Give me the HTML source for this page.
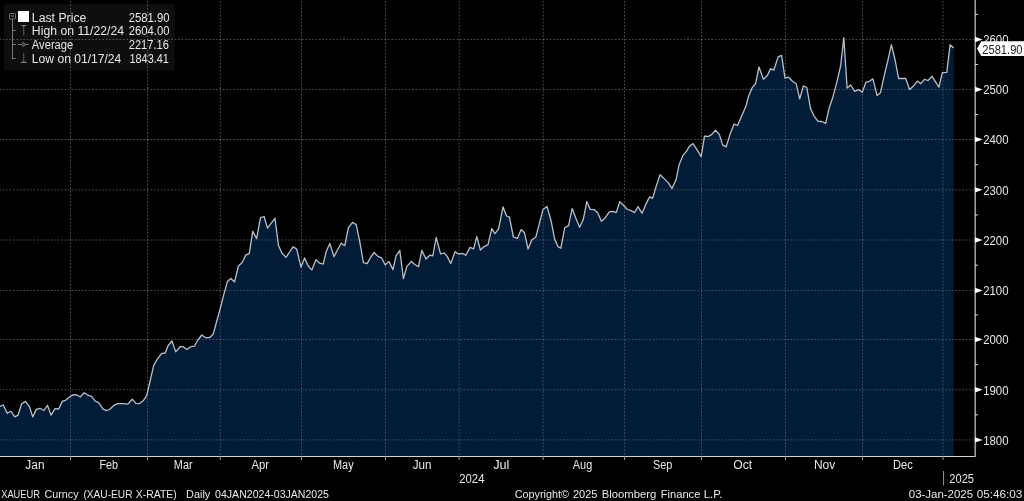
<!DOCTYPE html>
<html><head><meta charset="utf-8"><style>
html,body{margin:0;padding:0;background:#000;}
body{width:1024px;height:501px;overflow:hidden;position:relative;}
svg{display:block;position:absolute;left:0;top:0;}
text{font-family:"Liberation Sans",Arial,sans-serif;fill:#e8e8e8;}
</style></head><body>
<svg width="1024" height="501" viewBox="0 0 1024 501">
<rect x="0" y="0" width="1024" height="501" fill="#000"/>
<rect x="4" y="4" width="170.8" height="66.5" rx="3" ry="3" fill="#0e0e0e"/>
<g stroke="rgba(255,255,255,0.30)" stroke-width="1" fill="none">
<g stroke-dasharray="1.7 1.74" stroke-dashoffset="0.85"><line x1="0" y1="39.45" x2="974" y2="39.45"/><line x1="0" y1="89.45" x2="974" y2="89.45"/><line x1="0" y1="139.50" x2="974" y2="139.50"/><line x1="0" y1="189.85" x2="974" y2="189.85"/><line x1="0" y1="240.00" x2="974" y2="240.00"/><line x1="0" y1="290.45" x2="974" y2="290.45"/><line x1="0" y1="339.45" x2="974" y2="339.45"/><line x1="0" y1="389.75" x2="974" y2="389.75"/><line x1="0" y1="439.90" x2="974" y2="439.90"/></g>
<g stroke-dasharray="1.7 1.75" stroke-dashoffset="-0.9"><line x1="70.5" y1="0" x2="70.5" y2="456"/><line x1="147.5" y1="0" x2="147.5" y2="456"/><line x1="220.3" y1="0" x2="220.3" y2="456"/><line x1="301.5" y1="0" x2="301.5" y2="456"/><line x1="385.5" y1="0" x2="385.5" y2="456"/><line x1="459.2" y1="0" x2="459.2" y2="456"/><line x1="543.2" y1="0" x2="543.2" y2="456"/><line x1="624.5" y1="0" x2="624.5" y2="456"/><line x1="701.5" y1="0" x2="701.5" y2="456"/><line x1="785.5" y1="0" x2="785.5" y2="456"/><line x1="862.5" y1="0" x2="862.5" y2="456"/><line x1="943.0" y1="0" x2="943.0" y2="456"/></g>
</g>
<path d="M0,456 L0,406.4 L3.2,405 L7.2,413.3 L10.8,411.2 L14.8,416.8 L18,415.2 L21.6,403.8 L25.5,401.4 L29.5,406.6 L32.7,416.9 L36.3,409.4 L39.9,408.3 L43.9,410.5 L47.5,405.4 L51.1,415.2 L55.1,408.6 L58.7,409 L62.3,401.4 L65.5,400.3 L69.5,397 L73.5,394.6 L76.6,395 L80.4,396.9 L84,392.8 L88,395.2 L91.6,396.4 L95.2,401.2 L98.4,402.4 L103.1,409.1 L106.3,410.7 L109.5,409.5 L113.5,405.7 L117.5,403.6 L120.7,403.6 L123.9,403.6 L127.9,404.1 L132.3,399.2 L135.9,403.4 L139.5,403.6 L143.5,400.4 L146.7,395.6 L150.8,378 L153.7,365.3 L157,359.7 L161.5,353.7 L165.2,353 L168.2,345.5 L172,341 L175.7,351.9 L180.2,346.7 L183.2,346.7 L187,349.5 L190.7,346.7 L194.4,346.2 L198.2,339.5 L201.9,335 L205.7,337.7 L209.4,337.7 L213.2,334.2 L216.8,321 L220.4,308 L223.9,294.2 L227.4,281.6 L230.9,278.5 L234.6,281.9 L238.4,266 L242.2,262.5 L245.8,255.1 L249.3,253.3 L252.7,231.3 L256.6,238.6 L260.5,217.6 L264.1,216.5 L267.5,228.1 L271.3,223.2 L275,218.3 L278.5,245.6 L282,253.3 L286,257.4 L289.6,252 L293.2,246.7 L296.7,249.1 L301,267.2 L304.6,257.9 L308.2,266 L311.8,269.9 L316,259.6 L319.6,263.2 L323.2,264.2 L326.2,251.6 L329.8,243.5 L334,256.7 L337.6,249.8 L341.2,243.2 L344.8,245.6 L348.4,227.6 L352.6,222.4 L356.2,224.6 L359.7,241.4 L363.4,262.7 L367.2,263.6 L370.8,257 L374.1,252.5 L378,256.4 L381.6,257.8 L385.2,265 L388.8,261.4 L393,269.6 L396,255.8 L399.8,250.4 L403.4,278.6 L406.8,266.6 L411.3,261.4 L415.2,264.8 L418.5,266.6 L421.8,250.4 L426,259 L429.8,255.2 L432.8,255.8 L436.2,237.5 L440.6,254 L444.2,252.8 L447.2,256.4 L450.8,263.6 L455,251.6 L458.6,254 L462.2,253.4 L465.8,255.2 L470,247.4 L473.6,248.9 L476.8,236.6 L480.4,250 L483.8,246.8 L488,244.7 L491.8,228.7 L495,233.6 L498.6,228.8 L503,206.8 L506.5,216 L509.4,217.2 L513.4,237 L517.3,238.4 L521.2,229.5 L524.5,232.8 L528.1,249 L531.7,240 L535.8,237.2 L539.4,223.3 L543,209.4 L547,206.4 L551.2,221.4 L554.7,239.4 L558.1,246.6 L560.8,248.3 L564.7,227.8 L568.6,225.6 L572.1,208.6 L575.8,218.1 L579.6,227.2 L583.3,219.4 L586.8,201.6 L590.3,209.4 L593.9,209.6 L597.8,212.9 L601.4,221.3 L605.3,217.7 L609.5,211.6 L612.7,211.3 L616.2,212.6 L619.8,201.6 L623.7,205.5 L627.5,209.5 L631.2,210.6 L634.7,212.5 L638,206.6 L642.1,213.3 L646.2,203.6 L649.6,196.8 L652.6,198.3 L656.6,184.9 L660.1,174.7 L664.1,178.6 L668.2,182.6 L672,188.6 L676.1,179.6 L679.1,164.7 L682.8,155.7 L686.6,151.2 L688.9,146.9 L693,143.6 L697.3,150.1 L701.2,156.6 L704.5,136.2 L708.3,136.5 L711.6,134.6 L715.5,130.3 L719.4,134.6 L722.6,144.9 L726.2,146.9 L730.1,133.9 L734,124.2 L737.5,125.5 L742.1,115.1 L746,106 L748.6,96.2 L752.1,87.8 L755.6,83.3 L759,67 L763.4,79.4 L767.3,75.5 L770.7,68.6 L773.8,70.3 L778.1,56.9 L781.6,55.4 L785,78.1 L788.5,77.2 L792,80.7 L796.2,83.7 L799.7,98.8 L803.4,85.9 L806.8,87.5 L810.6,108.8 L814,115.8 L818,121.4 L821.8,121.5 L825.7,123.4 L829.1,108.3 L833,96.7 L836.8,82.3 L840.6,66 L843.8,37.7 L847.1,88 L850.7,85 L854.7,91.3 L858.4,89.6 L862.3,92.3 L865.9,82.3 L869.4,81.3 L872.9,78.9 L877.1,95.4 L880.4,92.8 L884.3,75.3 L887.9,60.3 L891.4,44.7 L895.3,61 L898.6,78.5 L902.2,78.5 L905.7,78.5 L909.6,89.5 L913.5,85.9 L917.4,81.1 L920.8,83.7 L924.4,79.4 L928,80.5 L932.1,76.3 L935.5,81.8 L939,87.2 L942.3,72.7 L946.8,72.3 L950.1,44.7 L953.7,48 L953.7,456 Z" fill="rgba(8,104,204,0.27)"/>
<g stroke="#777" stroke-width="1" fill="none">
<rect x="9.5" y="13.5" width="6" height="5.5" rx="0.8"/>
<line x1="12.5" y1="19" x2="12.5" y2="58.5"/>
<line x1="12" y1="30.5" x2="15.7" y2="30.5"/>
<line x1="12" y1="44.5" x2="15.7" y2="44.5"/>
<line x1="12" y1="58.5" x2="15.7" y2="58.5"/>
<line x1="18" y1="44.5" x2="28.7" y2="44.5"/>
</g>
<rect x="11" y="15.3" width="3" height="1.8" fill="#555"/>
<g fill="#777">
<path d="M20.9,24.9 L26.7,24.9 L26.7,25.6 L24.2,26.6 L24.2,35.5 L23.4,35.5 L23.4,26.6 L20.9,25.6 Z"/>
<path d="M23.4,53 L24.2,53 L24.2,61.2 L26.9,62.2 L26.9,62.9 L20.7,62.9 L20.7,62.2 L23.4,61.2 Z"/>
</g>
<path d="M23.5,42.2 L25.3,44.5 L23.5,46.8 L21.7,44.5 Z" fill="#3a3a3a" stroke="#808080" stroke-width="0.8"/>
<rect x="18" y="11" width="11" height="11" fill="#fff"/>
<g font-size="12"><text x="31.86" y="21.6" textLength="54.48" lengthAdjust="spacingAndGlyphs">Last Price</text><text x="31.86" y="35.2" textLength="92.18" lengthAdjust="spacingAndGlyphs">High on 11/22/24</text><text x="31.86" y="49.0" textLength="41.38" lengthAdjust="spacingAndGlyphs">Average</text><text x="31.86" y="62.7" textLength="89.48" lengthAdjust="spacingAndGlyphs">Low on 01/17/24</text></g>
<g font-size="12"><text x="128.76" y="21.6" textLength="40.68" lengthAdjust="spacingAndGlyphs">2581.90</text><text x="128.76" y="35.3" textLength="40.68" lengthAdjust="spacingAndGlyphs">2604.00</text><text x="128.76" y="48.8" textLength="40.18" lengthAdjust="spacingAndGlyphs">2217.16</text><text x="129.46" y="62.5" textLength="39.48" lengthAdjust="spacingAndGlyphs">1843.41</text></g>
<path d="M0,406.4 L3.2,405 L7.2,413.3 L10.8,411.2 L14.8,416.8 L18,415.2 L21.6,403.8 L25.5,401.4 L29.5,406.6 L32.7,416.9 L36.3,409.4 L39.9,408.3 L43.9,410.5 L47.5,405.4 L51.1,415.2 L55.1,408.6 L58.7,409 L62.3,401.4 L65.5,400.3 L69.5,397 L73.5,394.6 L76.6,395 L80.4,396.9 L84,392.8 L88,395.2 L91.6,396.4 L95.2,401.2 L98.4,402.4 L103.1,409.1 L106.3,410.7 L109.5,409.5 L113.5,405.7 L117.5,403.6 L120.7,403.6 L123.9,403.6 L127.9,404.1 L132.3,399.2 L135.9,403.4 L139.5,403.6 L143.5,400.4 L146.7,395.6 L150.8,378 L153.7,365.3 L157,359.7 L161.5,353.7 L165.2,353 L168.2,345.5 L172,341 L175.7,351.9 L180.2,346.7 L183.2,346.7 L187,349.5 L190.7,346.7 L194.4,346.2 L198.2,339.5 L201.9,335 L205.7,337.7 L209.4,337.7 L213.2,334.2 L216.8,321 L220.4,308 L223.9,294.2 L227.4,281.6 L230.9,278.5 L234.6,281.9 L238.4,266 L242.2,262.5 L245.8,255.1 L249.3,253.3 L252.7,231.3 L256.6,238.6 L260.5,217.6 L264.1,216.5 L267.5,228.1 L271.3,223.2 L275,218.3 L278.5,245.6 L282,253.3 L286,257.4 L289.6,252 L293.2,246.7 L296.7,249.1 L301,267.2 L304.6,257.9 L308.2,266 L311.8,269.9 L316,259.6 L319.6,263.2 L323.2,264.2 L326.2,251.6 L329.8,243.5 L334,256.7 L337.6,249.8 L341.2,243.2 L344.8,245.6 L348.4,227.6 L352.6,222.4 L356.2,224.6 L359.7,241.4 L363.4,262.7 L367.2,263.6 L370.8,257 L374.1,252.5 L378,256.4 L381.6,257.8 L385.2,265 L388.8,261.4 L393,269.6 L396,255.8 L399.8,250.4 L403.4,278.6 L406.8,266.6 L411.3,261.4 L415.2,264.8 L418.5,266.6 L421.8,250.4 L426,259 L429.8,255.2 L432.8,255.8 L436.2,237.5 L440.6,254 L444.2,252.8 L447.2,256.4 L450.8,263.6 L455,251.6 L458.6,254 L462.2,253.4 L465.8,255.2 L470,247.4 L473.6,248.9 L476.8,236.6 L480.4,250 L483.8,246.8 L488,244.7 L491.8,228.7 L495,233.6 L498.6,228.8 L503,206.8 L506.5,216 L509.4,217.2 L513.4,237 L517.3,238.4 L521.2,229.5 L524.5,232.8 L528.1,249 L531.7,240 L535.8,237.2 L539.4,223.3 L543,209.4 L547,206.4 L551.2,221.4 L554.7,239.4 L558.1,246.6 L560.8,248.3 L564.7,227.8 L568.6,225.6 L572.1,208.6 L575.8,218.1 L579.6,227.2 L583.3,219.4 L586.8,201.6 L590.3,209.4 L593.9,209.6 L597.8,212.9 L601.4,221.3 L605.3,217.7 L609.5,211.6 L612.7,211.3 L616.2,212.6 L619.8,201.6 L623.7,205.5 L627.5,209.5 L631.2,210.6 L634.7,212.5 L638,206.6 L642.1,213.3 L646.2,203.6 L649.6,196.8 L652.6,198.3 L656.6,184.9 L660.1,174.7 L664.1,178.6 L668.2,182.6 L672,188.6 L676.1,179.6 L679.1,164.7 L682.8,155.7 L686.6,151.2 L688.9,146.9 L693,143.6 L697.3,150.1 L701.2,156.6 L704.5,136.2 L708.3,136.5 L711.6,134.6 L715.5,130.3 L719.4,134.6 L722.6,144.9 L726.2,146.9 L730.1,133.9 L734,124.2 L737.5,125.5 L742.1,115.1 L746,106 L748.6,96.2 L752.1,87.8 L755.6,83.3 L759,67 L763.4,79.4 L767.3,75.5 L770.7,68.6 L773.8,70.3 L778.1,56.9 L781.6,55.4 L785,78.1 L788.5,77.2 L792,80.7 L796.2,83.7 L799.7,98.8 L803.4,85.9 L806.8,87.5 L810.6,108.8 L814,115.8 L818,121.4 L821.8,121.5 L825.7,123.4 L829.1,108.3 L833,96.7 L836.8,82.3 L840.6,66 L843.8,37.7 L847.1,88 L850.7,85 L854.7,91.3 L858.4,89.6 L862.3,92.3 L865.9,82.3 L869.4,81.3 L872.9,78.9 L877.1,95.4 L880.4,92.8 L884.3,75.3 L887.9,60.3 L891.4,44.7 L895.3,61 L898.6,78.5 L902.2,78.5 L905.7,78.5 L909.6,89.5 L913.5,85.9 L917.4,81.1 L920.8,83.7 L924.4,79.4 L928,80.5 L932.1,76.3 L935.5,81.8 L939,87.2 L942.3,72.7 L946.8,72.3 L950.1,44.7 L953.7,48" fill="none" stroke="#b9bfc6" stroke-width="1.3" stroke-linejoin="round"/>
<line x1="0" y1="456.5" x2="976" y2="456.5" stroke="#d4d4d4" stroke-width="1"/>
<line x1="975.2" y1="0" x2="975.2" y2="457" stroke="#9c9c9c" stroke-width="1.6"/>
<g stroke="#9a9a9a" stroke-width="1"><line x1="70.5" y1="456" x2="70.5" y2="460"/><line x1="147.5" y1="456" x2="147.5" y2="460"/><line x1="220.3" y1="456" x2="220.3" y2="460"/><line x1="301.5" y1="456" x2="301.5" y2="460"/><line x1="385.5" y1="456" x2="385.5" y2="460"/><line x1="459.2" y1="456" x2="459.2" y2="460"/><line x1="543.2" y1="456" x2="543.2" y2="460"/><line x1="624.5" y1="456" x2="624.5" y2="460"/><line x1="701.5" y1="456" x2="701.5" y2="460"/><line x1="785.5" y1="456" x2="785.5" y2="460"/><line x1="862.5" y1="456" x2="862.5" y2="460"/><line x1="943.0" y1="456" x2="943.0" y2="460"/></g>
<g stroke="#ddd" stroke-width="1"><line x1="975" y1="14.40" x2="978" y2="14.40"/><line x1="975" y1="64.45" x2="978" y2="64.45"/><line x1="975" y1="114.47" x2="978" y2="114.47"/><line x1="975" y1="164.68" x2="978" y2="164.68"/><line x1="975" y1="214.93" x2="978" y2="214.93"/><line x1="975" y1="265.23" x2="978" y2="265.23"/><line x1="975" y1="314.95" x2="978" y2="314.95"/><line x1="975" y1="364.60" x2="978" y2="364.60"/><line x1="975" y1="414.82" x2="978" y2="414.82"/></g>
<g fill="#fff"><path d="M975,36.75 L982.6,39.45 L975,42.15 Z"/><path d="M975,86.75 L982.6,89.45 L975,92.15 Z"/><path d="M975,136.80 L982.6,139.50 L975,142.20 Z"/><path d="M975,187.15 L982.6,189.85 L975,192.55 Z"/><path d="M975,237.30 L982.6,240.00 L975,242.70 Z"/><path d="M975,287.75 L982.6,290.45 L975,293.15 Z"/><path d="M975,336.75 L982.6,339.45 L975,342.15 Z"/><path d="M975,387.05 L982.6,389.75 L975,392.45 Z"/><path d="M975,437.20 L982.6,439.90 L975,442.60 Z"/></g>
<g font-size="12"><text x="983.2" y="44.35" textLength="25.3" lengthAdjust="spacingAndGlyphs">2600</text><text x="983.2" y="94.35" textLength="25.3" lengthAdjust="spacingAndGlyphs">2500</text><text x="983.2" y="144.40" textLength="25.3" lengthAdjust="spacingAndGlyphs">2400</text><text x="983.2" y="194.75" textLength="25.3" lengthAdjust="spacingAndGlyphs">2300</text><text x="983.2" y="244.90" textLength="25.3" lengthAdjust="spacingAndGlyphs">2200</text><text x="983.2" y="295.35" textLength="25.3" lengthAdjust="spacingAndGlyphs">2100</text><text x="983.2" y="344.35" textLength="25.3" lengthAdjust="spacingAndGlyphs">2000</text><text x="983.2" y="394.65" textLength="25.3" lengthAdjust="spacingAndGlyphs">1900</text><text x="983.2" y="444.80" textLength="25.3" lengthAdjust="spacingAndGlyphs">1800</text></g>
<path d="M977,48.7 L981.3,41.3 L1024,41.3 L1024,56 L981.3,56 Z" fill="#fff"/>
<g font-size="12"><text x="982.26" y="53.7" textLength="40.28" lengthAdjust="spacingAndGlyphs" style="fill:#1a1a1a">2581.90</text></g>
<g font-size="12"><text x="25.36" y="468.7" textLength="19.18" lengthAdjust="spacingAndGlyphs">Jan</text><text x="99.42" y="468.7" textLength="18.62" lengthAdjust="spacingAndGlyphs">Feb</text><text x="173.86" y="468.7" textLength="18.68" lengthAdjust="spacingAndGlyphs">Mar</text><text x="251.46" y="468.7" textLength="17.48" lengthAdjust="spacingAndGlyphs">Apr</text><text x="333.06" y="468.7" textLength="20.58" lengthAdjust="spacingAndGlyphs">May</text><text x="412.76" y="468.7" textLength="18.78" lengthAdjust="spacingAndGlyphs">Jun</text><text x="493.21" y="468.7" textLength="16.23" lengthAdjust="spacingAndGlyphs">Jul</text><text x="572.86" y="468.7" textLength="19.38" lengthAdjust="spacingAndGlyphs">Aug</text><text x="652.96" y="468.7" textLength="19.38" lengthAdjust="spacingAndGlyphs">Sep</text><text x="733.26" y="468.7" textLength="18.88" lengthAdjust="spacingAndGlyphs">Oct</text><text x="813.96" y="468.7" textLength="21.28" lengthAdjust="spacingAndGlyphs">Nov</text><text x="892.96" y="468.7" textLength="19.78" lengthAdjust="spacingAndGlyphs">Dec</text><text x="459.26" y="482.8" textLength="25.18" lengthAdjust="spacingAndGlyphs">2024</text><text x="949.36" y="482.8" textLength="24.68" lengthAdjust="spacingAndGlyphs">2025</text></g>
<line x1="943.5" y1="471" x2="943.5" y2="485.5" stroke="#8a8a8a" stroke-width="1"/>
<g font-size="11"><text x="1.21" y="497.6" textLength="38.79" lengthAdjust="spacingAndGlyphs">XAUEUR</text><text x="44.41" y="497.6" textLength="34.19" lengthAdjust="spacingAndGlyphs">Curncy</text><text x="83.41" y="497.6" textLength="49.09" lengthAdjust="spacingAndGlyphs">(XAU-EUR</text><text x="135.70" y="497.6" textLength="41.09" lengthAdjust="spacingAndGlyphs">X-RATE)</text><text x="186.10" y="497.6" textLength="24.19" lengthAdjust="spacingAndGlyphs">Daily</text><text x="215.10" y="497.6" textLength="113.89" lengthAdjust="spacingAndGlyphs">04JAN2024-03JAN2025</text><text x="514.71" y="497.6" textLength="54.29" lengthAdjust="spacingAndGlyphs">Copyright©</text><text x="572.90" y="497.6" textLength="24.59" lengthAdjust="spacingAndGlyphs">2025</text><text x="601.71" y="497.6" textLength="54.59" lengthAdjust="spacingAndGlyphs">Bloomberg</text><text x="660.71" y="497.6" textLength="39.69" lengthAdjust="spacingAndGlyphs">Finance</text><text x="703.71" y="497.6" textLength="18.69" lengthAdjust="spacingAndGlyphs">L.P.</text><text x="908.80" y="497.6" textLength="64.29" lengthAdjust="spacingAndGlyphs">03-Jan-2025</text><text x="976.71" y="497.6" textLength="45.59" lengthAdjust="spacingAndGlyphs">05:46:03</text></g>
</svg>
</body></html>
